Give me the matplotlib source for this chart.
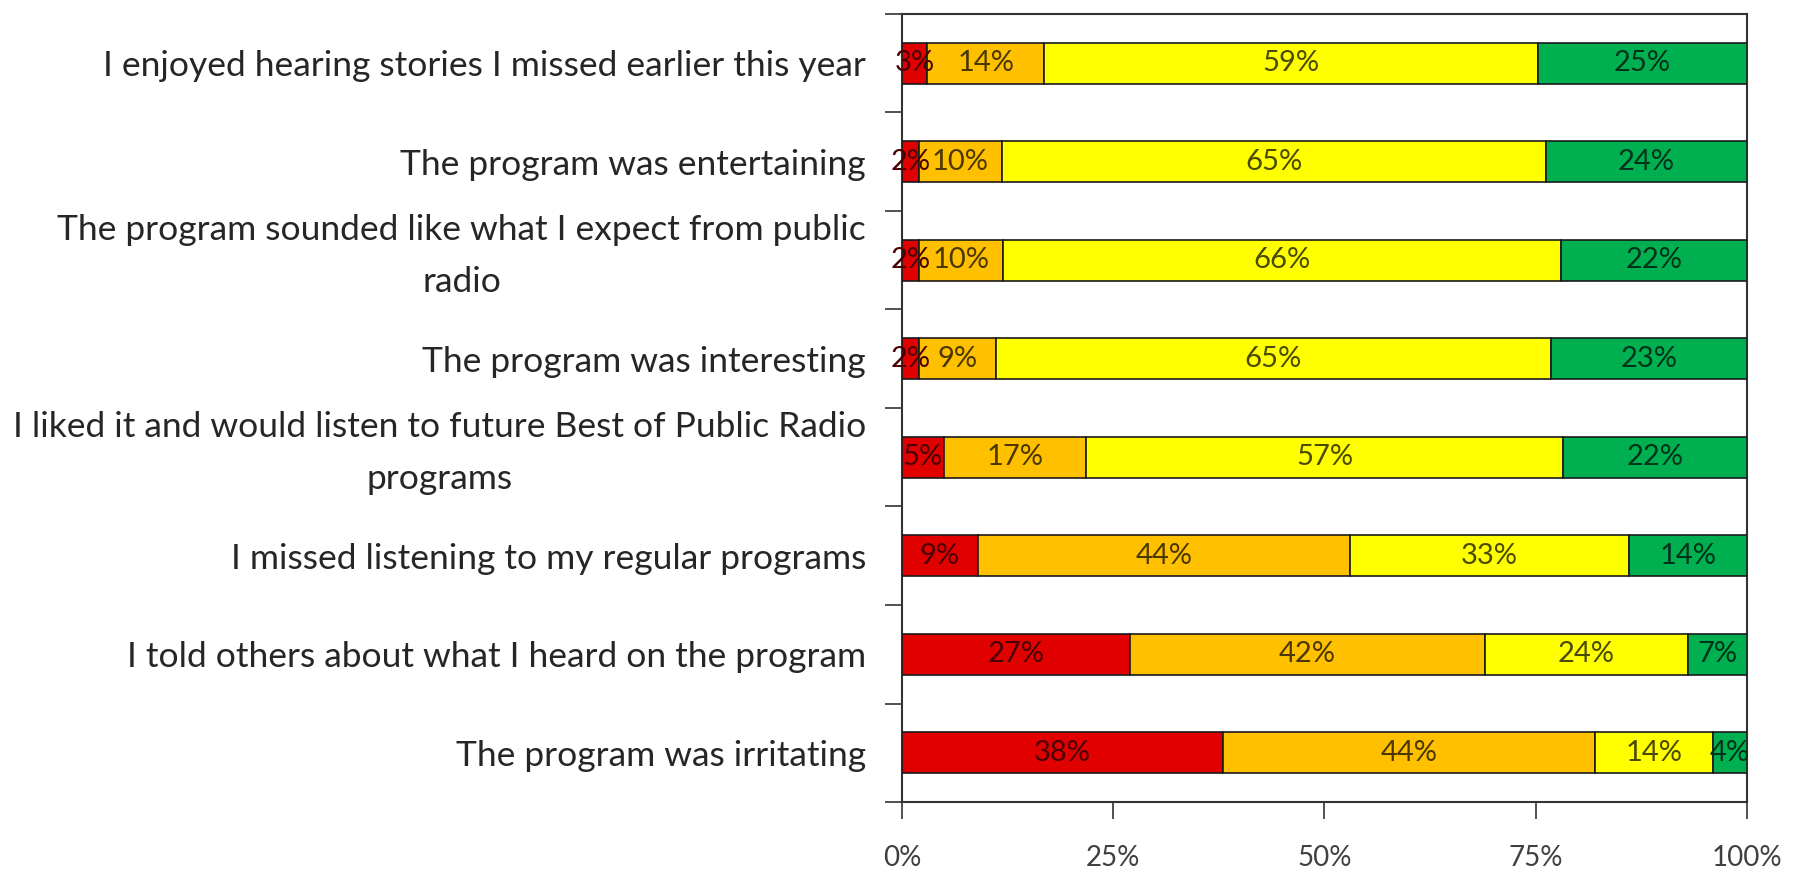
import numpy as np
import matplotlib
matplotlib.use("Agg")
import matplotlib.pyplot as plt
from matplotlib.transforms import ScaledTranslation

plt.rcParams['font.family'] = ['Lato', 'DejaVu Sans']

statements = [
    "I enjoyed hearing stories I missed earlier this year",
    "The program was entertaining",
    "The program sounded like what I expect from public\nradio",
    "The program was interesting",
    "I liked it and would listen to future Best of Public Radio\nprograms",
    "I missed listening to my regular programs",
    "I told others about what I heard on the program",
    "The program was irritating",
]
strongly_disagree = [3, 2, 2, 2, 5, 9, 27, 38]
disagree = [14, 10, 10, 9, 17, 44, 42, 44]
agree = [59, 65, 66, 65, 57, 33, 24, 14]
strongly_agree = [25, 24, 22, 23, 22, 14, 7, 4]
x_ticks = [0, 25, 50, 75, 100]
x_tick_labels = ["0%", "25%", "50%", "75%", "100%"]

series = [strongly_disagree, disagree, agree, strongly_agree]
colors = ["#E00000", "#FFC000", "#FFFF00", "#00B050"]
text_colors = ["#4a0000", "#4a3800", "#4a4a00", "#00331a"]

counts = np.array(series, dtype=float)
shares = counts / counts.sum(axis=0) * 100  # 100% stacked

fig = plt.figure(figsize=(18.04, 8.71), dpi=100)
ax = fig.add_axes([0.5, 0.0792, 0.4684, 0.9048])

y = np.arange(len(statements))
left = np.zeros(len(statements))
for vals, share, col, tcol in zip(series, shares, colors, text_colors):
    bars = ax.barh(y, share, left=left, height=0.42, color=col,
                   edgecolor="#1a1a1a", linewidth=1.2, zorder=3)
    ax.bar_label(bars, labels=[f"{v}%" for v in vals], label_type="center",
                 fontsize=21, color=tcol, zorder=4)
    left += share

ax.set_xlim(0, 100)
ax.set_ylim(len(statements) - 0.5, -0.5)
ax.set_xticks(x_ticks)
ax.set_xticklabels(x_tick_labels, fontsize=20, color="#404040")

# category labels centred on bars, tick marks on the category boundaries
ax.set_yticks(y)
ax.set_yticklabels(statements, fontsize=25.5, color="#262626",
                   multialignment="center", linespacing=1.75)
ax.tick_params(axis="y", which="major", length=0, pad=26)
ax.set_yticks(np.arange(len(statements) + 1) - 0.5, minor=True)
ax.tick_params(axis="y", which="minor", length=12, width=1.2, color="#333333")
ax.tick_params(axis="x", length=12, width=1.2, color="#333333", pad=19)

# wrapped labels start level with the top of their bar
lift = ScaledTranslation(0, 0.17, fig.dpi_scale_trans)
for lab in ax.get_yticklabels():
    if "\n" in lab.get_text():
        lab.set_transform(lab.get_transform() + lift)

for side in ["left", "right", "top", "bottom"]:
    ax.spines[side].set_color("#333333")
    ax.spines[side].set_linewidth(1.5)

fig.savefig("out.png", dpi=100, facecolor="white")
